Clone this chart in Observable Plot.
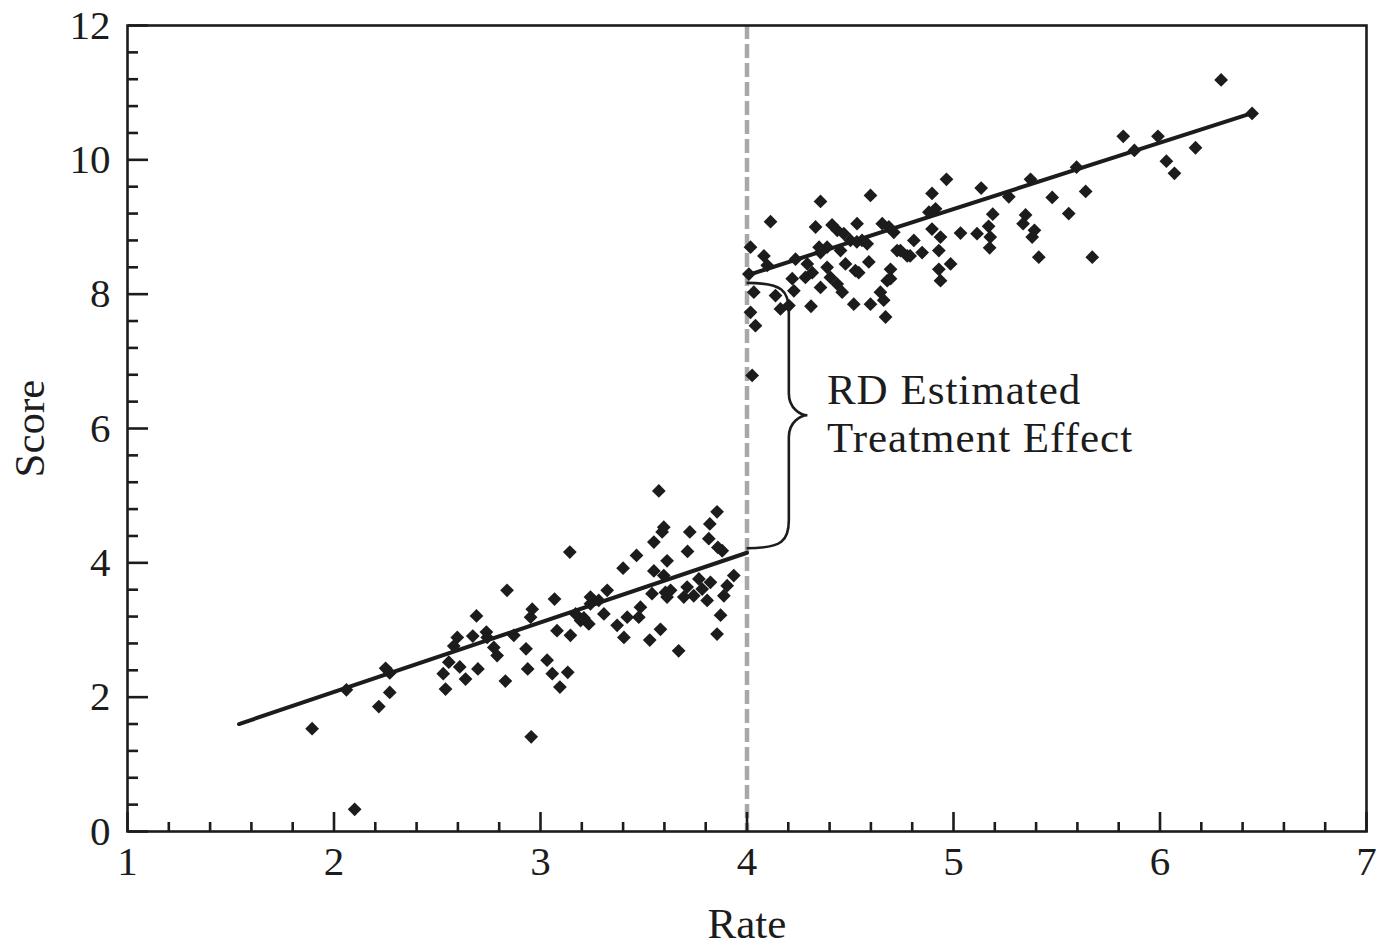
<!DOCTYPE html>
<html><head><meta charset="utf-8">
<script src="https://cdn.jsdelivr.net/npm/d3@7"></script>
<script src="https://cdn.jsdelivr.net/npm/@observablehq/plot@0.6"></script>
<style>body{margin:0;background:#fff}</style>
</head><body><div id="chart"></div>
<script>
// Observations below the cutoff (Rate < 4)
const belowRate = [1.894,2.06,2.10,2.25,2.27,2.27,2.217,2.69,2.597,2.672,2.738,2.58,2.556,2.529,2.609,2.637,2.697,2.54,2.774,2.79,2.742,
  3.573,3.855,3.82,3.597,3.589,3.723,3.549,3.815,3.859,3.88,3.712,3.142,3.465,3.40,3.613,3.549,3.597,3.767,3.936,3.904,3.71,3.783,3.694,3.742,3.807,3.888,3.605,3.613,3.54,3.323,3.242,
  2.838,3.068,2.96,2.952,2.871,2.93,2.938,2.83,3.032,3.057,3.132,3.094,2.955,3.08,3.145,3.17,3.194,3.234,3.242,3.282,3.307,3.371,3.404,3.42,3.484,3.476,3.581,3.529,3.669,3.855,3.872,3.63,3.823,3.21];
const belowScore = [1.53,2.11,0.33,2.43,2.36,2.07,1.86,3.21,2.89,2.91,2.97,2.76,2.52,2.35,2.45,2.27,2.42,2.12,2.74,2.62,2.89,
  5.07,4.76,4.58,4.53,4.46,4.46,4.31,4.36,4.23,4.18,4.17,4.16,4.11,3.92,4.03,3.88,3.81,3.76,3.81,3.66,3.64,3.61,3.49,3.51,3.44,3.51,3.56,3.49,3.54,3.59,3.49,
  3.59,3.46,3.31,3.19,2.92,2.72,2.42,2.24,2.55,2.35,2.37,2.15,1.41,2.99,2.92,3.24,3.14,3.09,3.39,3.44,3.24,3.07,2.89,3.19,3.34,3.19,3.01,2.85,2.69,2.94,3.22,3.59,3.71,3.18];

// Observations at or above the cutoff (Rate >= 4)
const aboveRate = [4.356,4.598,4.114,4.896,4.017,4.082,4.098,4.009,4.033,4.017,4.041,4.025,4.138,4.162,4.203,4.219,4.227,4.235,4.292,4.316,4.332,4.349,4.356,4.388,4.388,4.356,4.412,4.437,4.469,4.453,4.404,4.437,4.461,4.477,4.501,4.533,4.557,4.582,4.525,4.541,4.59,4.517,4.598,4.646,4.662,4.671,4.679,4.695,4.655,4.687,4.711,4.727,4.776,4.808,4.848,4.881,4.913,4.896,4.937,4.929,4.929,4.986,4.937,5.034,5.114,4.31,4.283,4.966,
  6.296,6.446,5.822,5.99,5.876,6.172,6.031,6.07,5.596,5.373,5.134,5.268,5.478,5.64,5.558,5.19,5.17,5.178,5.175,5.349,5.337,5.392,5.381,5.413,5.672,4.743,4.79,4.532,4.695];
const aboveScore = [9.38,9.47,9.08,9.50,8.70,8.57,8.43,8.30,8.03,7.73,7.53,6.79,7.98,7.78,7.83,8.23,8.05,8.52,8.45,8.32,9.00,8.70,8.62,8.70,8.40,8.10,9.03,8.95,8.90,8.65,8.25,8.15,8.03,8.45,8.80,9.05,8.80,8.75,8.35,8.32,8.48,7.85,7.85,8.03,7.91,7.66,8.20,8.37,9.05,9.00,8.92,8.65,8.57,8.80,8.62,9.22,9.27,8.97,8.85,8.65,8.37,8.45,8.20,8.91,8.90,7.82,8.25,9.71,
  11.19,10.69,10.35,10.35,10.14,10.18,9.98,9.80,9.89,9.71,9.58,9.45,9.44,9.53,9.20,9.19,9.01,8.85,8.69,9.18,9.05,8.95,8.85,8.55,8.55,8.65,8.57,8.78,8.23];

// Fitted regression lines (endpoints)
const fitBelowRate = [1.54, 4.0];
const fitBelowScore = [1.60, 4.15];
const fitAboveRate = [4.0, 6.45];
const fitAboveScore = [8.28, 10.70];

const cutoff = [4];

// Axis ticks
const majorX = [1,2,3,4,5,6,7];
const minorX = [1.2,1.4,1.6,1.8,2.2,2.4,2.6,2.8,3.2,3.4,3.6,3.8,4.2,4.4,4.6,4.8,5.2,5.4,5.6,5.8,6.2,6.4,6.6,6.8];
const majorY = [0,2,4,6,8,10,12];
const minorY = [0.4,0.8,1.2,1.6,2.4,2.8,3.2,3.6,4.4,4.8,5.2,5.6,6.4,6.8,7.2,7.6,8.4,8.8,9.2,9.6,10.4,10.8,11.2,11.6];

// Annotation
const braceRate = [4.0, 4.205, 4.295];    // start, spine, tip
const braceScore = [8.16, 6.19, 4.21];    // top, tip, bottom
const noteRate = [4.387];
const noteScore = [6.24];
const noteText = ["RD Estimated\nTreatment Effect"];

const below = belowRate.map((x, i) => ({rate: x, score: belowScore[i]}));
const above = aboveRate.map((x, i) => ({rate: x, score: aboveScore[i]}));
const fitBelow = fitBelowRate.map((x, i) => ({rate: x, score: fitBelowScore[i]}));
const fitAbove = fitAboveRate.map((x, i) => ({rate: x, score: fitAboveScore[i]}));
const note = noteText.map((t, i) => ({rate: noteRate[i], score: noteScore[i], text: t}));

const ink = "#1c1c1c";

function brace(index, scales) {
  const x0 = scales.x(braceRate[0]), xs = scales.x(braceRate[1]), xt = scales.x(braceRate[2]);
  const yT = scales.y(braceScore[0]), yM = scales.y(braceScore[1]), yB = scales.y(braceScore[2]);
  const r = 28, r2 = 22;
  const d = `M${x0},${yT} C${xs - 6},${yT} ${xs},${yT + 8} ${xs},${yT + r}` +
    ` L${xs},${yM - r2} C${xs},${yM - 6} ${xt - 6},${yM} ${xt},${yM}` +
    ` C${xt - 6},${yM} ${xs},${yM + 6} ${xs},${yM + r2}` +
    ` L${xs},${yB - r} C${xs},${yB - 8} ${xs - 6},${yB} ${x0},${yB}`;
  const p = document.createElementNS("http://www.w3.org/2000/svg", "path");
  p.setAttribute("d", d);
  p.setAttribute("fill", "none");
  p.setAttribute("stroke", ink);
  p.setAttribute("stroke-width", 2.6);
  return p;
}

const fmt = d => String(d);

const chart = Plot.plot({
  width: 1381,
  height: 946,
  marginLeft: 127,
  marginRight: 15,
  marginTop: 25,
  marginBottom: 115,
  style: {fontFamily: "'Liberation Serif', 'Times New Roman', serif", fontSize: "41px", color: ink, background: "#fff"},
  x: {domain: [1, 7], axis: null},
  y: {domain: [0, 12], axis: null},
  marks: [
    Plot.ruleX(cutoff, {x: d => d, stroke: "#a8a8a8", strokeWidth: 4.5, strokeDasharray: "14,5"}),
    Plot.line(fitBelow, {x: "rate", y: "score", stroke: ink, strokeWidth: 4}),
    Plot.line(fitAbove, {x: "rate", y: "score", stroke: ink, strokeWidth: 4}),
    Plot.dot(below, {x: "rate", y: "score", symbol: "diamond2", r: 6.2, fill: ink, stroke: "none"}),
    Plot.dot(above, {x: "rate", y: "score", symbol: "diamond2", r: 6.2, fill: ink, stroke: "none"}),
    brace,
    Plot.text(note, {x: "rate", y: "score", text: "text", textAnchor: "start", lineAnchor: "middle", lineHeight: 1.116, fontSize: 43, fill: ink, className: "wide"}),
    Plot.frame({stroke: ink, strokeWidth: 2.6}),
    Plot.axisX(majorX, {anchor: "top", frameAnchor: "bottom", tickSize: 20, strokeWidth: 2.6, stroke: ink, fill: "none", label: null}),
    Plot.axisX(minorX, {anchor: "top", frameAnchor: "bottom", tickSize: 10, strokeWidth: 2.6, stroke: ink, fill: "none", label: null}),
    Plot.axisY(majorY, {anchor: "right", frameAnchor: "left", tickSize: 20, strokeWidth: 2.6, stroke: ink, fill: "none", label: null}),
    Plot.axisY(minorY, {anchor: "right", frameAnchor: "left", tickSize: 10, strokeWidth: 2.6, stroke: ink, fill: "none", label: null}),
    Plot.axisX(majorX, {anchor: "bottom", tickSize: 0, tickPadding: 14, tickFormat: fmt, fill: ink, label: null}),
    Plot.axisY(majorY, {anchor: "left", tickSize: 0, tickPadding: 17, tickFormat: fmt, fill: ink, label: null}),
    Plot.axisX(majorX, {anchor: "bottom", tickSize: 0, fill: ink, fontSize: 43, text: null, tickFormat: () => "", label: "Rate", labelAnchor: "center", labelOffset: 106, labelArrow: "none", className: "wide"}),
    Plot.axisY(majorY, {anchor: "left", tickSize: 0, fill: ink, fontSize: 43, tickFormat: () => "", label: "Score", labelAnchor: "center", labelOffset: 114, labelArrow: "none", className: "wide"})
  ]
});
chart.querySelectorAll(".wide text, text.wide, g.wide").forEach(el => el.style.letterSpacing = "1px");
document.getElementById("chart").appendChild(chart);
</script>
</body></html>
